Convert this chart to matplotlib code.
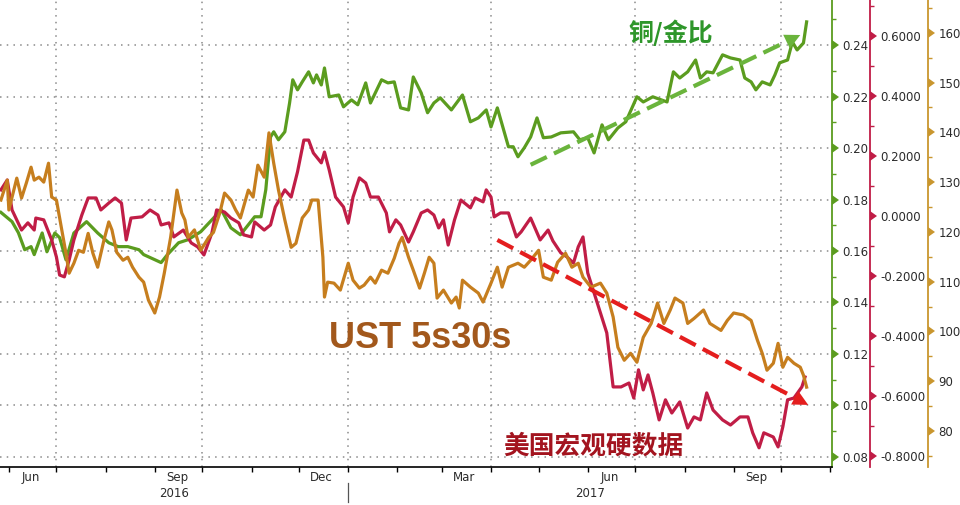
import matplotlib
matplotlib.use('Agg')
import matplotlib.pyplot as plt
import matplotlib.dates as mdates
import matplotlib.markers as mmarkers
import matplotlib.ticker as mticker
import matplotlib.transforms as mtransforms
import numpy as np
import pandas as pd

plt.rcParams['font.family'] = ['DejaVu Sans']

# ---------------- data ----------------
copper_gold_dates = [
    '2016-05-27','2016-06-03','2016-06-07','2016-06-11','2016-06-15','2016-06-17','2016-06-22','2016-06-25',
    '2016-06-30','2016-07-03','2016-07-07','2016-07-12','2016-07-20','2016-07-27','2016-08-03','2016-08-09',
    '2016-08-15','2016-08-22','2016-08-25','2016-09-05','2016-09-09','2016-09-16','2016-09-22','2016-09-30',
    '2016-10-07','2016-10-13','2016-10-19','2016-10-25','2016-11-03','2016-11-07','2016-11-10','2016-11-13',
    '2016-11-15','2016-11-18','2016-11-22','2016-11-25','2016-11-27','2016-11-30','2016-12-03','2016-12-07',
    '2016-12-10','2016-12-12','2016-12-15','2016-12-17','2016-12-20','2016-12-26','2016-12-29','2017-01-03',
    '2017-01-07','2017-01-12','2017-01-15','2017-01-22','2017-01-26','2017-01-30','2017-02-03','2017-02-08',
    '2017-02-11','2017-02-16','2017-02-20','2017-02-24','2017-02-28','2017-03-07','2017-03-14','2017-03-19',
    '2017-03-24','2017-03-29','2017-04-01','2017-04-05','2017-04-12','2017-04-15','2017-04-18','2017-04-22',
    '2017-04-26','2017-04-30','2017-05-04','2017-05-09','2017-05-15','2017-05-23','2017-05-27','2017-06-01',
    '2017-06-05','2017-06-10','2017-06-14','2017-06-20','2017-06-25','2017-07-02','2017-07-06','2017-07-12',
    '2017-07-21','2017-07-25','2017-07-29','2017-08-03','2017-08-08','2017-08-11','2017-08-15','2017-08-19',
    '2017-08-25','2017-08-30','2017-09-05','2017-09-08','2017-09-12','2017-09-15','2017-09-19','2017-09-24',
    '2017-09-27','2017-09-30','2017-10-05','2017-10-08','2017-10-11','2017-10-15','2017-10-17']
copper_gold = [
    0.1750,0.1714,0.1671,0.1605,0.1617,0.1586,0.1670,0.1597,
    0.1670,0.1652,0.1566,0.1670,0.1714,0.1670,0.1632,0.1617,
    0.1617,0.1605,0.1586,0.1555,0.1586,0.1632,0.1644,0.1675,
    0.1721,0.1760,0.1690,0.1663,0.1733,0.1733,0.1838,0.2043,
    0.2063,0.2032,0.2063,0.2175,0.2265,0.2226,0.2257,0.2296,
    0.2253,0.2284,0.2245,0.2311,0.2199,0.2206,0.2160,0.2187,
    0.2168,0.2253,0.2175,0.2265,0.2253,0.2257,0.2156,0.2148,
    0.2276,0.2214,0.2137,0.2175,0.2195,0.2148,0.2206,0.2102,
    0.2117,0.2148,0.2082,0.2156,0.2005,0.2005,0.1966,0.2001,
    0.2043,0.2117,0.2040,0.2043,0.2059,0.2063,0.2032,0.2040,
    0.1981,0.2090,0.2032,0.2078,0.2102,0.2199,0.2179,0.2199,
    0.2179,0.2296,0.2272,0.2296,0.2342,0.2272,0.2296,0.2292,
    0.2362,0.2350,0.2342,0.2272,0.2257,0.2226,0.2257,0.2245,
    0.2284,0.2331,0.2342,0.2412,0.2381,0.2408,0.2490]

hard_data_dates = [
    '2016-05-27','2016-05-31','2016-06-03','2016-06-09','2016-06-13','2016-06-17','2016-06-18','2016-06-23',
    '2016-06-28','2016-07-01','2016-07-03','2016-07-06','2016-07-09','2016-07-12','2016-07-17','2016-07-21',
    '2016-07-26','2016-07-29','2016-08-03','2016-08-07','2016-08-11','2016-08-14','2016-08-17','2016-08-24',
    '2016-08-29','2016-09-03','2016-09-05','2016-09-10','2016-09-13','2016-09-19','2016-09-24','2016-09-28',
    '2016-10-02','2016-10-07','2016-10-10','2016-10-15','2016-10-19','2016-10-24','2016-10-27','2016-11-01',
    '2016-11-03','2016-11-09','2016-11-13','2016-11-16','2016-11-22','2016-11-26','2016-11-30','2016-12-04',
    '2016-12-07','2016-12-10','2016-12-15','2016-12-17','2016-12-20','2016-12-24','2016-12-29','2017-01-01',
    '2017-01-04','2017-01-08','2017-01-12','2017-01-15','2017-01-20','2017-01-25','2017-01-27','2017-01-31',
    '2017-02-03','2017-02-08','2017-02-11','2017-02-16','2017-02-20','2017-02-24','2017-02-27','2017-03-02',
    '2017-03-05','2017-03-09','2017-03-13','2017-03-19','2017-03-22','2017-03-27','2017-03-29','2017-04-01',
    '2017-04-03','2017-04-07','2017-04-12','2017-04-17','2017-04-20','2017-04-26','2017-05-02','2017-05-07',
    '2017-05-10','2017-05-15','2017-05-19','2017-05-23','2017-05-26','2017-05-29','2017-06-01','2017-06-05',
    '2017-06-09','2017-06-13','2017-06-17','2017-06-22','2017-06-27','2017-06-30','2017-07-03','2017-07-06',
    '2017-07-09','2017-07-12','2017-07-16','2017-07-20','2017-07-24','2017-07-29','2017-08-03','2017-08-07',
    '2017-08-11','2017-08-15','2017-08-19','2017-08-25','2017-08-30','2017-09-05','2017-09-10','2017-09-13',
    '2017-09-17','2017-09-20','2017-09-26','2017-09-29','2017-10-02','2017-10-05','2017-10-09','2017-10-14',
    '2017-10-16']
hard_data = [
    0.087,0.120,0.020,-0.047,-0.023,-0.047,-0.007,-0.013,
    -0.080,-0.137,-0.197,-0.203,-0.147,-0.080,0.003,0.060,
    0.060,0.020,0.043,0.060,0.043,-0.080,-0.007,-0.003,
    0.020,0.003,-0.030,-0.023,-0.070,-0.047,-0.090,-0.103,
    -0.130,-0.057,0.020,0.013,-0.007,-0.023,-0.063,-0.070,
    -0.020,-0.047,-0.030,0.030,0.087,0.063,0.147,0.253,
    0.253,0.210,0.177,0.213,0.153,0.063,0.030,-0.023,
    0.063,0.127,0.110,0.063,0.063,0.010,-0.053,-0.013,
    -0.030,-0.087,-0.053,0.010,0.020,0.003,-0.040,-0.013,
    -0.097,-0.013,0.053,0.027,0.060,0.047,0.087,0.063,
    -0.003,0.010,0.010,-0.070,-0.053,-0.007,-0.080,-0.047,
    -0.083,-0.123,-0.137,-0.157,-0.103,-0.070,-0.190,-0.257,
    -0.323,-0.390,-0.570,-0.570,-0.557,-0.607,-0.513,-0.580,
    -0.530,-0.590,-0.680,-0.613,-0.657,-0.620,-0.707,-0.670,
    -0.680,-0.590,-0.647,-0.680,-0.697,-0.670,-0.670,-0.723,
    -0.773,-0.723,-0.737,-0.770,-0.703,-0.613,-0.607,-0.570,
    -0.537]

ust_dates = [
    '2016-05-27','2016-05-31','2016-06-01','2016-06-06','2016-06-09','2016-06-12','2016-06-15','2016-06-17',
    '2016-06-20','2016-06-23','2016-06-26','2016-06-28','2016-07-01','2016-07-04','2016-07-07','2016-07-09',
    '2016-07-12','2016-07-15','2016-07-18','2016-07-21','2016-07-24','2016-07-27','2016-07-31','2016-08-03',
    '2016-08-05','2016-08-08','2016-08-12','2016-08-15','2016-08-18','2016-08-22','2016-08-25','2016-08-28',
    '2016-09-01','2016-09-04','2016-09-07','2016-09-11','2016-09-15','2016-09-18','2016-09-20','2016-09-22',
    '2016-09-26','2016-09-30','2016-10-05','2016-10-08','2016-10-12','2016-10-15','2016-10-19','2016-10-22',
    '2016-10-25','2016-10-30','2016-11-02','2016-11-05','2016-11-09','2016-11-12','2016-11-15','2016-11-18',
    '2016-11-22','2016-11-26','2016-11-29','2016-12-03','2016-12-07','2016-12-09','2016-12-13','2016-12-16',
    '2016-12-17','2016-12-19','2016-12-23','2016-12-27','2017-01-01','2017-01-04','2017-01-08','2017-01-11',
    '2017-01-15','2017-01-18','2017-01-22','2017-01-26','2017-01-30','2017-02-02','2017-02-04','2017-02-08',
    '2017-02-11','2017-02-15','2017-02-18','2017-02-21','2017-02-24','2017-02-26','2017-03-02','2017-03-07',
    '2017-03-10','2017-03-12','2017-03-14','2017-03-19','2017-03-24','2017-03-27','2017-04-01','2017-04-05',
    '2017-04-08','2017-04-12','2017-04-18','2017-04-22','2017-04-26','2017-05-01','2017-05-04','2017-05-09',
    '2017-05-13','2017-05-18','2017-05-22','2017-05-26','2017-05-29','2017-06-03','2017-06-09','2017-06-13',
    '2017-06-17','2017-06-20','2017-06-24','2017-06-28','2017-07-02','2017-07-06','2017-07-11','2017-07-15',
    '2017-07-19','2017-07-23','2017-07-26','2017-07-31','2017-08-03','2017-08-07','2017-08-13','2017-08-17',
    '2017-08-24','2017-08-28','2017-09-01','2017-09-07','2017-09-12','2017-09-16','2017-09-19','2017-09-22',
    '2017-09-26','2017-09-29','2017-10-02','2017-10-05','2017-10-09','2017-10-13','2017-10-15','2017-10-17']
ust_5s30s = [
    126.4,130.4,124.4,130.8,126.8,129.8,133.0,130.4,
    131.0,130.0,133.8,127.0,126.4,121.0,115.7,111.7,
    113.7,116.3,115.9,119.7,115.7,112.9,118.4,122.0,
    120.4,115.9,114.3,114.9,112.9,110.9,109.9,106.3,
    103.7,106.9,111.7,118.9,128.4,123.8,122.4,118.9,
    120.4,116.3,118.9,119.9,123.8,127.8,126.4,124.4,
    122.8,128.4,127.0,133.4,131.0,139.9,133.8,128.4,
    122.4,116.9,117.7,122.8,124.4,126.4,126.4,114.9,
    106.9,109.9,109.7,108.3,113.7,110.3,108.7,109.3,
    110.9,109.7,112.3,111.7,114.7,117.7,118.9,114.9,
    112.3,108.7,111.7,114.9,113.7,106.7,108.3,105.7,
    106.9,104.7,110.3,108.9,107.7,105.9,109.7,112.9,
    108.9,112.9,113.7,112.9,114.3,116.3,110.9,110.3,
    113.9,115.7,112.9,113.7,110.9,108.9,109.7,107.7,
    102.9,96.8,94.2,95.6,93.8,98.8,101.6,105.7,
    101.6,104.3,106.7,105.7,101.6,102.6,104.3,101.6,
    100.2,102.2,103.7,103.3,102.2,98.2,95.6,92.2,
    93.6,97.6,92.8,94.8,93.6,92.8,91.2,88.8]

green_ticks = [0.08, 0.10, 0.12, 0.14, 0.16, 0.18, 0.20, 0.22, 0.24]
red_ticks = [-0.8, -0.6, -0.4, -0.2, 0.0, 0.2, 0.4, 0.6]
brown_ticks = [80, 90, 100, 110, 120, 130, 140, 150, 160]
month_labels = ['Jun', 'Sep', 'Dec', 'Mar', 'Jun', 'Sep']
month_label_dates = ['2016-06-15', '2016-09-15', '2016-12-15', '2017-03-15', '2017-06-15', '2017-09-15']
quarter_starts = ['2016-07-01', '2016-10-01', '2017-01-01', '2017-04-01', '2017-07-01', '2017-10-01']
years = ['2016', '2017']

# annotation arrows (trend lines drawn on the chart)
green_arrow = (('2017-04-26', 0.1935), ('2017-10-13', 0.2439))
red_arrow = (('2017-04-05', -0.08), ('2017-10-18', -0.63))

# ---------------- styling ----------------
C_GREEN = '#5b9c1f'
C_RED = '#c01d46'
C_BROWN = '#c67e1e'
C_TXT = '#2b2b2b'

fig = plt.figure(figsize=(9.6, 5.05), dpi=100)
ax = fig.add_axes([0.0, 1 - 467 / 505, 832 / 960, 467 / 505])
ax_r = ax.twinx()
ax_b = ax.twinx()

ax.plot(pd.to_datetime(copper_gold_dates), copper_gold, color=C_GREEN, lw=2.3, zorder=3)
ax_r.plot(pd.to_datetime(hard_data_dates), hard_data, color=C_RED, lw=2.3, zorder=3)
ax_b.plot(pd.to_datetime(ust_dates), ust_5s30s, color=C_BROWN, lw=2.3, zorder=3)

# spines
for s in ['top', 'left']:
    ax.spines[s].set_visible(False)
ax.spines['bottom'].set_color('black')
ax.spines['bottom'].set_linewidth(1.2)
ax.spines['right'].set_color(C_GREEN)
ax.spines['right'].set_linewidth(1.3)
for a, pos, col in [(ax_r, 870 / 832, C_RED), (ax_b, 928 / 832, '#c9962e')]:
    for s in ['top', 'left', 'bottom']:
        a.spines[s].set_visible(False)
    a.spines['right'].set_position(('axes', pos))
    a.spines['right'].set_color(col)
    a.spines['right'].set_linewidth(1.3)


def style_y(a, color, major, fmt, minor_step):
    a.yaxis.tick_right()
    a.set_yticks(major)
    mn = np.arange(major[0] - minor_step, major[-1] + 2 * minor_step, 2 * minor_step)
    a.set_yticks(mn, minor=True)
    a.yaxis.set_major_formatter(mticker.FormatStrFormatter(fmt))
    a.tick_params(axis='y', which='major', direction='out', length=5.5, width=0, pad=2.0,
                  labelcolor=C_TXT, labelsize=8.5, left=False, right=True,
                  labelleft=False, labelright=True)
    a.tick_params(axis='y', which='minor', direction='out', length=3, width=1.0,
                  color=color, left=False, right=True)
    for t in a.yaxis.get_major_ticks():
        ln = t.tick2line
        ln.set_marker(mmarkers.CARETRIGHTBASE)
        ln.set_markersize(6.5)
        ln.set_markerfacecolor(color)
        ln.set_markeredgecolor(color)
        ln.set_markeredgewidth(0)


style_y(ax, C_GREEN, green_ticks, '%.2f', 0.01)
style_y(ax_r, C_RED, red_ticks, '%.4f', 0.1)
style_y(ax_b, '#c9962e', brown_ticks, '%d', 5)

# limits (after ticks so that tick setting cannot widen them)
ax.set_xlim(pd.Timestamp('2016-05-26 10:00'), pd.Timestamp('2017-11-02'))
ax.set_ylim(0.0761, 0.2575)
ax_r.set_ylim(-0.837, 0.72)
ax_b.set_ylim(72.75, 166.6)

# grid
ax.yaxis.grid(True, which='major', color='#8a8a8a', linestyle=(0, (1, 3.4)), lw=1.1)
for q in quarter_starts:
    ax.axvline(pd.Timestamp(q), color='#8a8a8a', linestyle=(0, (1, 3.4)), lw=1.1, zorder=1)
ax.set_axisbelow(True)

# x axis
month_starts = pd.date_range('2016-06-01', '2017-11-01', freq='MS')
ax.set_xticks(month_starts)
ax.set_xticklabels([])
ax.set_xticks(pd.to_datetime(month_label_dates), minor=True)
ax.set_xticklabels(month_labels, minor=True)
ax.tick_params(axis='x', which='major', direction='out', length=3.5, width=1, color='black')
ax.tick_params(axis='x', which='minor', length=0, pad=3, labelsize=8.5, labelcolor=C_TXT)
ax.set_xlim(pd.Timestamp('2016-05-26 10:00'), pd.Timestamp('2017-11-02'))

xl = ax.get_xlim()
jan = mdates.date2num(pd.Timestamp('2017-01-01'))
bt = mtransforms.blended_transform_factory(ax.transData, ax.transAxes)
ax.text((xl[0] + jan) / 2, -0.056, years[0], transform=bt, ha='center', va='center',
        fontsize=8.5, color=C_TXT)
ax.text((jan + xl[1]) / 2, -0.056, years[1], transform=bt, ha='center', va='center',
        fontsize=8.5, color=C_TXT)
ax.plot([jan, jan], [-0.034, -0.074], transform=bt, color='#555555', lw=0.9, clip_on=False)
ax.set_ylim(0.0761, 0.2575)


# dashed trend arrows
def dashed_arrow(target, src_ax, start, end, color):
    xs = mdates.date2num(pd.to_datetime([start[0], end[0]]))
    ys = [start[1], end[1]]
    p0 = src_ax.transData.transform((xs[0], ys[0]))
    p1 = src_ax.transData.transform((xs[1], ys[1]))
    vec = p1 - p0
    u = vec / np.hypot(*vec)
    back = src_ax.transData.inverted().transform(p1 - u * 15)
    target.plot([xs[0], back[0]], [ys[0], back[1]], color=color, lw=3.0,
                dashes=(4.3, 1.9), dash_capstyle='butt', transform=src_ax.transData, zorder=6)
    target.annotate('', xy=(xs[1], ys[1]), xycoords=src_ax.transData,
                    xytext=(back[0], back[1]), textcoords=src_ax.transData,
                    arrowprops=dict(arrowstyle='-|>,head_length=1.1,head_width=0.55',
                                    color=color, lw=0, shrinkA=0, shrinkB=0,
                                    mutation_scale=10), zorder=6)


dashed_arrow(ax_b, ax, green_arrow[0], green_arrow[1], '#6ab43c')
dashed_arrow(ax_b, ax_r, red_arrow[0], red_arrow[1], '#e41e1e')
ax_b.set_ylim(72.75, 166.6)

# annotation text
cjk = ['Noto Sans CJK SC', 'DejaVu Sans']
ax_b.text(0.8065, 0.929, '铜/金比', transform=ax_b.transAxes, ha='center', va='center',
          fontsize=18, fontweight='bold', color='#2e962a', family=cjk, zorder=7)
ax_b.text(0.505, 0.276, 'UST 5s30s', transform=ax_b.transAxes, ha='center', va='center',
          fontsize=26, fontweight='bold', color='#a2581c', family=['Liberation Sans', 'DejaVu Sans'], zorder=7)
ax_b.text(0.7127, 0.045, '美国宏观硬数据', transform=ax_b.transAxes, ha='center', va='center',
          fontsize=18.5, fontweight='bold', color='#a3141f', family=cjk, zorder=7)

fig.savefig('out.png', dpi=100)
